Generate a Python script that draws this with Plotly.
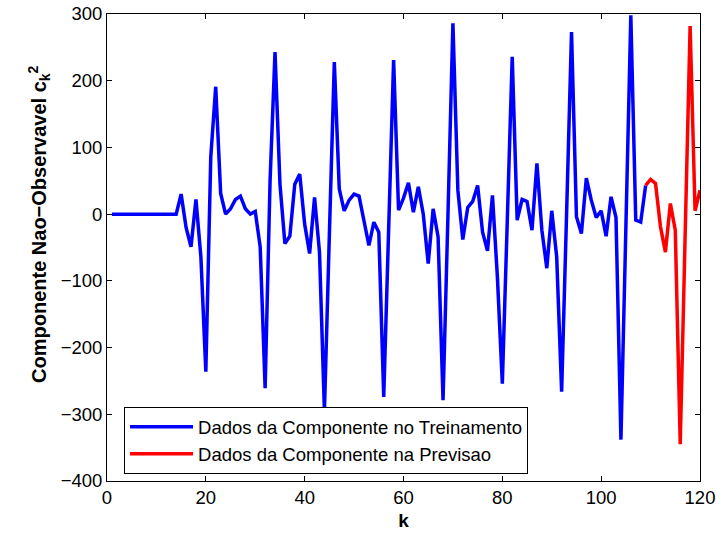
import plotly.graph_objects as go

# Training component (k = 1..109)
k_train = list(range(1, 110))
c_train = [
    0, 0, 0, 0, 0, 0, 0, 0, 0, 0,            # 1-10
    0, 0, 0, 0, 30, -20, -49, 22, -64, -236,  # 11-20
    86, 191, 31, 0, 8, 22, 27, 8, 0, 4,       # 21-30
    -49, -261, 50, 243, 45, -44, -33, 45, 60, -15,  # 31-40
    -59, 25, -57, -295, -30, 228, 38, 5, 21, 30,    # 41-50
    27, -9, -47, -12, -27, -274, -20, 231, 6, 24,   # 51-60
    47, 3, 41, 0, -74, 8, -34, -279, 0, 286,        # 61-70
    36, -38, 10, 19, 43, -27, -55, 28, -94, -254,   # 71-80
    -10, 236, -9, 22, 19, -24, 76, -24, -81, 5,     # 81-90
    -64, -266, 0, 273, -4, -29, 54, 21, -5, 5,      # 91-100
    -33, 26, -5, -338, -20, 298, -9, -12, 43,       # 101-109
]

# Forecast component (k = 109..120)
k_pred = list(range(109, 121))
c_pred = [43, 52, 46, -19, -57, 16, -24, -345, -30, 282, 5, 36]

x_ticks = [0, 20, 40, 60, 80, 100, 120]
y_ticks = [-400, -300, -200, -100, 0, 100, 200, 300]

FONT = "Liberation Sans, Arial, Helvetica, sans-serif"

fig = go.Figure()
fig.add_trace(go.Scatter(
    x=k_train, y=c_train, mode="lines",
    line=dict(color="#0000FF", width=3.5),
    name="Dados da Componente no Treinamento",
))
fig.add_trace(go.Scatter(
    x=k_pred, y=c_pred, mode="lines",
    line=dict(color="#FF0000", width=3.5),
    name="Dados da Componente na Previsao",
))

axis_common = dict(
    showline=True, linecolor="black", linewidth=1, mirror="allticks",
    ticks="inside", ticklen=5, tickcolor="black", tickwidth=1,
    showgrid=False, zeroline=False, automargin=False,
    tickfont=dict(family=FONT, size=18.5, color="black"),
)

fig.update_xaxes(
    range=[0, 120], tickvals=x_ticks,
    title=dict(text="<b>k</b>", font=dict(family=FONT, size=19, color="black"), standoff=6),
    **axis_common,
)
fig.update_yaxes(range=[-400, 300], tickvals=y_ticks, **axis_common)

# y-axis title placed as a rotated annotation (to match the original offset)
fig.add_annotation(
    text="<b>Componente Nao\u2212Observavel c<sub>k</sub><sup>2</sup></b>",
    textangle=-90, showarrow=False,
    xref="paper", yref="paper", x=-0.115, y=0.55,
    xanchor="center", yanchor="middle",
    font=dict(family=FONT, size=20, color="black"),
)

fig.update_layout(
    width=716, height=534,
    margin=dict(l=107, r=16, t=14, b=53),
    paper_bgcolor="white", plot_bgcolor="white",
    font=dict(family=FONT, color="black"),
    legend=dict(
        x=0.0287, y=0.158, xanchor="left", yanchor="top",
        bgcolor="white", bordercolor="black", borderwidth=1,
        font=dict(family=FONT, size=18.5, color="black"),
        tracegroupgap=0, itemwidth=63,
        entrywidth=355, entrywidthmode="pixels",
    ),
    showlegend=True,
)

fig.write_html("out.html")
